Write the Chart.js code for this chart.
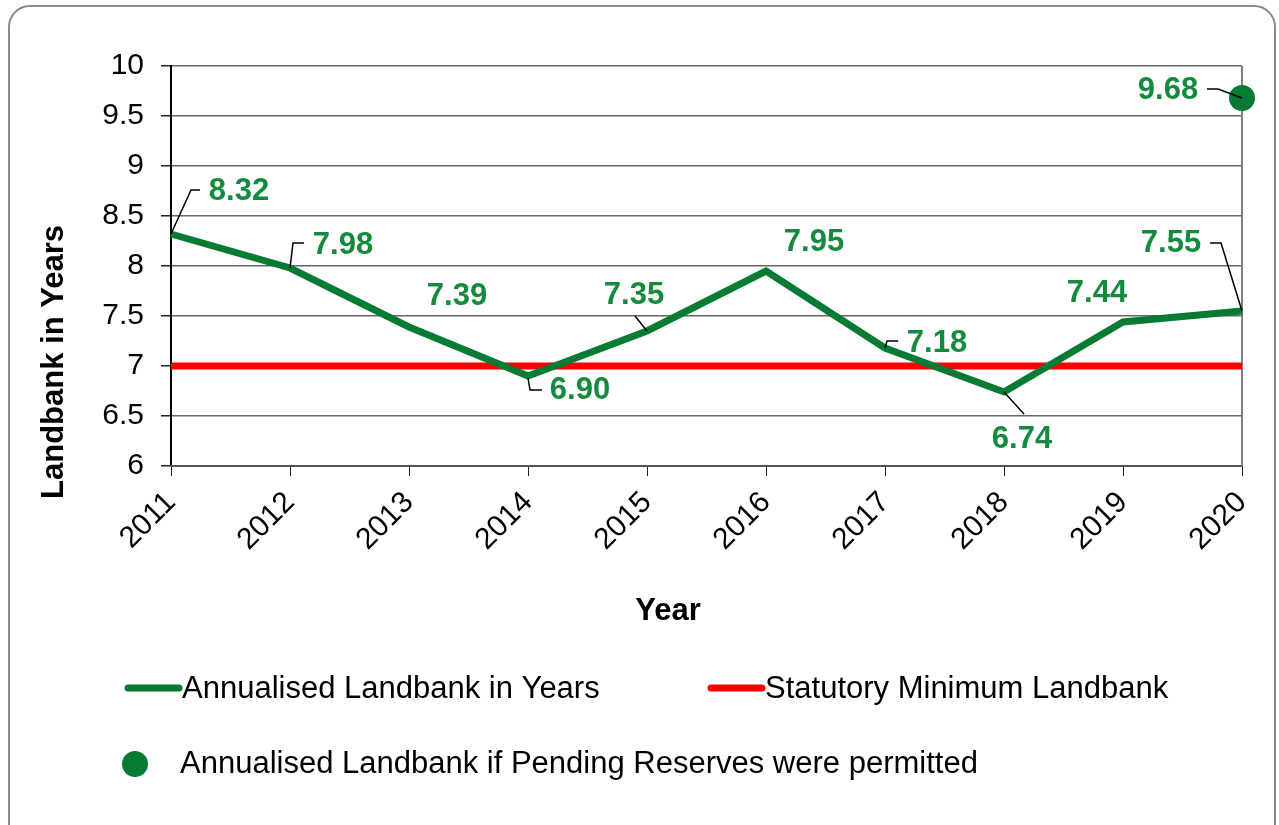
<!DOCTYPE html>
<html>
<head>
<meta charset="utf-8">
<script src="https://cdn.jsdelivr.net/npm/chart.js@4/dist/chart.umd.min.js"></script>
<style>
  html, body { margin: 0; padding: 0; background: #fff; overflow: hidden; }
  #wrap { position: relative; width: 1279px; height: 825px; }
  #frame {
    position: absolute; left: 8px; top: 5px; width: 1268px; height: 860px;
    border: 2px solid #8a8a8a; border-radius: 22px; box-sizing: border-box;
  }
  #landbankChart { position: absolute; left: 0; top: 0; }
</style>
</head>
<body>
<div id="wrap">
  <div id="frame"></div>
  <canvas id="landbankChart" width="1279" height="825"></canvas>
</div>
<script>
// Данные
const years = ['2011', '2012', '2013', '2014', '2015', '2016', '2017', '2018', '2019', '2020'];
const landbank = [8.32, 7.98, 7.39, 6.90, 7.35, 7.95, 7.18, 6.74, 7.44, 7.55];
const statutoryMin = [7, 7, 7, 7, 7, 7, 7, 7, 7, 7];
const pendingReserves = [null, null, null, null, null, null, null, null, null, 9.68];
const yTickValues = [6, 6.5, 7, 7.5, 8, 8.5, 9, 9.5, 10];

// Подписи значений: смещение центра текста от точки и выноска
const landbankLabels = [
    { dx: 68, dy: -44, leader: [[0, 0], [20, -44], [29, -44]] },
    { dx: 53, dy: -24, leader: [[0, 0], [3, -25], [14, -25]] },
    { dx: 48, dy: -32, leader: null },
    { dx: 52, dy: 13, leader: [[0, 2], [2, 14], [14, 14]] },
    { dx: -13, dy: -37, leader: [[0, 0], [-12, -15]] },
    { dx: 48, dy: -30, leader: null },
    { dx: 52, dy: -6, leader: [[0, 0], [2, -7], [13, -7]] },
    { dx: 18, dy: 46, leader: [[0, 0], [20, 22]] },
    { dx: -26, dy: -30, leader: null },
    { dx: -71, dy: -69, leader: [[0, 0], [-21, -68], [-32, -68]] }
];
const pendingLabels = [null, null, null, null, null, null, null, null, null,
    { dx: -74, dy: -9, leader: [[-35, -9], [-24, -9], [0, 0]] }];

const GREEN = '#077a34';
const LABEL_GREEN = '#138a3e';
const RED = '#ff0000';
const FONT = "'Liberation Sans', Arial, sans-serif";

Chart.defaults.font.family = FONT;

const labelPlugin = {
    id: 'pointLabels',
    afterDatasetsDraw(chart) {
        const ctx = chart.ctx;
        ctx.save();
        ctx.font = 'bold 31px ' + FONT;
        ctx.textAlign = 'center';
        ctx.textBaseline = 'middle';
        [[0, landbankLabels], [2, pendingLabels]].forEach(([di, specs]) => {
            const meta = chart.getDatasetMeta(di);
            meta.data.forEach((pt, i) => {
                const v = chart.data.datasets[di].data[i];
                const s = specs[i];
                if (v == null || !s) return;
                if (s.leader) {
                    ctx.strokeStyle = '#000';
                    ctx.lineWidth = 1.5;
                    ctx.beginPath();
                    s.leader.forEach(([lx, ly], k) => {
                        if (k === 0) ctx.moveTo(pt.x + lx, pt.y + ly);
                        else ctx.lineTo(pt.x + lx, pt.y + ly);
                    });
                    ctx.stroke();
                }
                ctx.fillStyle = LABEL_GREEN;
                ctx.fillText(v.toFixed(2), pt.x + s.dx, pt.y + s.dy + 1);
            });
        });
        ctx.restore();
    }
};

const decorPlugin = {
    id: 'decor',
    beforeDatasetsDraw(chart) {
        // правая граница области построения
        const { ctx, chartArea: a } = chart;
        ctx.save();
        ctx.strokeStyle = '#808080';
        ctx.lineWidth = 2;
        ctx.beginPath();
        ctx.moveTo(a.right, a.top);
        ctx.lineTo(a.right, a.bottom);
        ctx.stroke();
        ctx.restore();
    },
    afterDraw(chart) {
        const { ctx } = chart;
        const ds = chart.data.datasets;
        ctx.save();
        ctx.fillStyle = '#000';
        ctx.textBaseline = 'middle';

        // заголовки осей
        ctx.font = 'bold 31px ' + FONT;
        ctx.textAlign = 'center';
        ctx.fillText('Year', 668, 611);
        ctx.save();
        ctx.translate(54, 362);
        ctx.rotate(-Math.PI / 2);
        ctx.fillText('Landbank in Years', 0, 0);
        ctx.restore();

        // легенда
        ctx.font = '31px ' + FONT;
        ctx.textAlign = 'left';
        ctx.lineCap = 'round';
        const lineItems = [
            { ds: ds[0], x: 128, y: 688 },
            { ds: ds[1], x: 711, y: 688 }
        ];
        lineItems.forEach(it => {
            ctx.strokeStyle = it.ds.borderColor;
            ctx.lineWidth = 7;
            ctx.beginPath();
            ctx.moveTo(it.x, it.y);
            ctx.lineTo(it.x + 51, it.y);
            ctx.stroke();
            ctx.fillStyle = '#000';
            ctx.fillText(it.ds.label, it.x + 54, it.y + 1);
        });
        ctx.fillStyle = ds[2].backgroundColor;
        ctx.beginPath();
        ctx.arc(135, 764, 13, 0, Math.PI * 2);
        ctx.fill();
        ctx.fillStyle = '#000';
        ctx.fillText(ds[2].label, 180, 764);
        ctx.restore();
    }
};

const ctx = document.getElementById('landbankChart').getContext('2d');

const landbankChart = new Chart(ctx, {
    type: 'line',
    data: {
        labels: years,
        datasets: [
            {
                label: 'Annualised Landbank in Years',
                data: landbank,
                borderColor: GREEN,
                backgroundColor: GREEN,
                borderWidth: 7,
                pointRadius: 0,
                tension: 0,
                order: 1
            },
            {
                label: 'Statutory Minimum Landbank',
                data: statutoryMin,
                borderColor: RED,
                backgroundColor: RED,
                borderWidth: 7,
                pointRadius: 0,
                borderCapStyle: 'butt',
                order: 2
            },
            {
                label: 'Annualised Landbank if Pending Reserves were permitted',
                data: pendingReserves,
                showLine: false,
                borderColor: GREEN,
                backgroundColor: GREEN,
                pointRadius: 13,
                pointBorderWidth: 0,
                clip: false,
                order: 0
            }
        ]
    },
    options: {
        responsive: false,
        animation: false,
        layout: {
            padding: { top: 66, right: 37, left: 0, bottom: 0 }
        },
        plugins: {
            legend: { display: false },
            tooltip: { enabled: false }
        },
        scales: {
            y: {
                min: 6,
                max: 10,
                afterFit: scale => { scale.width = 171; },
                afterBuildTicks: scale => {
                    scale.ticks = yTickValues.map(v => ({ value: v }));
                },
                ticks: {
                    color: '#000',
                    padding: 17,
                    font: { size: 30 },
                    callback: value => String(value)
                },
                grid: {
                    color: '#666',
                    lineWidth: 1.5,
                    tickLength: 10,
                    tickColor: '#222'
                },
                border: {
                    color: '#000',
                    width: 2
                }
            },
            x: {
                afterFit: scale => { scale.height = 359; },
                ticks: {
                    color: '#000',
                    maxRotation: 45,
                    minRotation: 45,
                    padding: 9,
                    font: { size: 30 }
                },
                grid: {
                    drawOnChartArea: false,
                    tickLength: 10,
                    tickColor: '#222'
                },
                border: {
                    color: '#555',
                    width: 2
                }
            }
        }
    },
    plugins: [decorPlugin, labelPlugin]
});
</script>
</body>
</html>
